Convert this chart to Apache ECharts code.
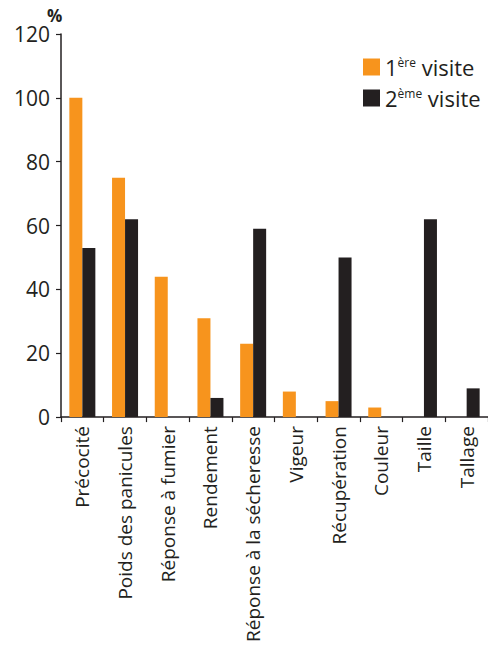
<!DOCTYPE html>
<html><head><meta charset="utf-8">
<script src="https://cdn.jsdelivr.net/npm/echarts@6/dist/echarts.min.js"></script>
<style>html,body{margin:0;padding:0;background:#fff}#c{width:488px;height:645px}</style>
</head><body><div id="c"></div>
<script>
const categories = ['Précocité','Poids des panicules','Réponse à fumier','Rendement','Réponse à la sécheresse','Vigeur','Récupération','Couleur','Taille','Tallage'];
const visite1 = [100, 75, 44, 31, 23, 8, 5, 3, 0, 0];
const visite2 = [53, 62, 0, 6, 59, 0, 50, 0, 62, 9];
const seriesNames = ['1ère visite', '2ème visite'];
const yTicks = [0, 20, 40, 60, 80, 100, 120];

const FONT = 'Open Sans';
const chart = echarts.init(document.getElementById('c'), null, {renderer: 'svg'});
const toData = arr => arr.map(v => v === 0 ? '-' : v);
chart.setOption({
  animation: false,
  textStyle: {fontFamily: FONT, color: '#231F20'},
  grid: {left: 61, right: 0, top: 34, bottom: 227, containLabel: false},
  legend: {
    orient: 'vertical', left: 358, top: 51, itemWidth: 17, itemHeight: 17, itemGap: 6,
    icon: 'rect',
    formatter: name => {
      const m = name.match(/^(\d)(\S+) (.*)$/);
      return '{n|' + m[1] + '}{s|' + m[2] + '}{n| ' + m[3] + '}';
    },
    textStyle: {
      rich: {
        n: {fontSize: 22, fontFamily: FONT, color: '#231F20', lineHeight: 22},
        s: {fontSize: 12, fontFamily: FONT, color: '#231F20', verticalAlign: 'top', lineHeight: 22, padding: [0, 0, 13, 0]}
      }
    },
    data: seriesNames
  },
  xAxis: {
    type: 'category', data: categories,
    axisLine: {lineStyle: {color: '#231F20', width: 1.5}},
    axisTick: {show: true, length: 5, lineStyle: {color: '#231F20', width: 1.2}},
    axisLabel: {rotate: 90, fontSize: 19, color: '#231F20', fontFamily: FONT, margin: 9, interval: 0}
  },
  yAxis: {
    type: 'value', min: 0, max: 120, interval: 20,
    name: '%', nameLocation: 'end', nameGap: 6,
    nameTextStyle: {fontSize: 17, fontWeight: 'bold', color: '#231F20', fontFamily: FONT, align: 'left', padding: [0, 0, 0, -14]},
    axisLine: {show: true, lineStyle: {color: '#231F20', width: 1.5}},
    axisTick: {show: true, length: 5, lineStyle: {color: '#231F20', width: 1.2}},
    splitLine: {show: false},
    axisLabel: {fontSize: 21, color: '#231F20', fontFamily: FONT, margin: 11,
      formatter: v => yTicks.includes(v) ? String(v) : ''}
  },
  series: [
    {name: seriesNames[0], type: 'bar', data: toData(visite1), barWidth: 13, barGap: '0%', itemStyle: {color: '#F7941D'}},
    {name: seriesNames[1], type: 'bar', data: toData(visite2), barWidth: 13, barGap: '0%', itemStyle: {color: '#231F20'}}
  ]
});
</script></body></html>
